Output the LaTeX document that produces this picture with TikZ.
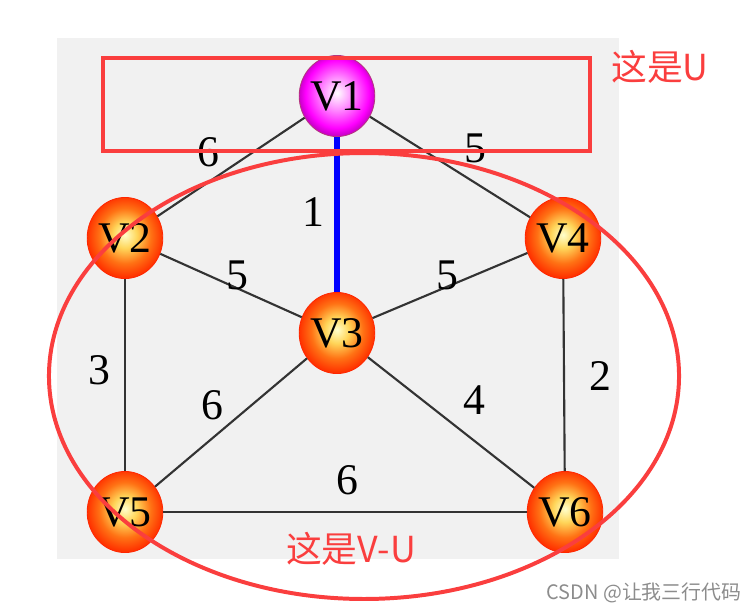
\documentclass[tikz,border=0pt]{standalone}
\usepackage{fontspec}
\setmainfont{Liberation Serif}
\newfontfamily\cjk{Noto Sans CJK SC}
\usetikzlibrary{shapes.geometric}

\definecolor{markred}{RGB}{250,62,62}
\definecolor{panel}{RGB}{241,241,241}
\pgfdeclareradialshading{orangeball}{\pgfpoint{0bp}{2bp}}{color(0bp)=(yellow!20!white); color(8bp)=(orange!50!yellow!65!white); color(17bp)=(orange!80!red!92!white); color(25bp)=(red!60!orange); color(50bp)=(red!60!orange)}
\pgfdeclareradialshading{pinkball}{\pgfpoint{0bp}{2bp}}{color(0bp)=(white); color(10bp)=(magenta!45!white); color(21bp)=(magenta); color(25bp)=(magenta!80!black); color(50bp)=(magenta!80!black)}

\begin{document}
\begin{tikzpicture}[
    x=0.0265cm, y=-0.0265cm,
    vtx/.style={ellipse, draw=red!70!orange, line width=0.6pt, shading=orangeball,
                minimum width=2.0cm, minimum height=2.15cm, inner sep=0pt,
                font=\fontsize{33}{33}\selectfont},
    root/.style={vtx, draw=magenta!70!black, shading=pinkball},
    edge/.style={line width=1.6pt, black!80},
    chosen/.style={line width=3.8pt, blue},
    wt/.style={font=\fontsize{33}{33}\selectfont, inner sep=0pt},
    hilite/.style={draw=markred, line width=3pt},
    note/.style={text=markred, font=\cjk\fontsize{27}{27}\selectfont, inner sep=0pt},
  ]
    \useasboundingbox (0,0) rectangle (754,612);
    \fill[panel] (57,38) rectangle (619,559);

    % vertices
    \node[root] (v1) at (337,96) {V1};
    \node[vtx] (v2) at (125,238) {V2};
    \node[vtx] (v4) at (563,238) {V4};
    \node[vtx] (v3) at (337,333) {V3};
    \node[vtx] (v5) at (125,512) {V5};
    \node[vtx] (v6) at (565,512) {V6};

    % edges
    \draw[edge] (v1) -- (v2);
    \draw[edge] (v1) -- (v4);
    \draw[chosen] (v1) -- (v3);
    \draw[edge] (v2) -- (v3);
    \draw[edge] (v3) -- (v4);
    \draw[edge] (v2) -- (v5);
    \draw[edge] (v4) -- (v6);
    \draw[edge] (v3) -- (v5);
    \draw[edge] (v3) -- (v6);
    \draw[edge] (v5) -- (v6);

    % edge weights
    \node[wt] (w12) at (208,152) {6};
    \node[wt] (w14) at (475,148) {5};
    \node[wt] (w13) at (313,212) {1};
    \node[wt] (w23) at (237,275) {5};
    \node[wt] (w34) at (447,275) {5};
    \node[wt] (w25) at (99,370) {3};
    \node[wt] (w46) at (600,376) {2};
    \node[wt] (w35) at (212,405) {6};
    \node[wt] (w36) at (474,400) {4};
    \node[wt] (w56) at (347,480) {6};

    % U and V-U marks
    \draw[hilite] (103,58) rectangle (590,151);
    \draw[hilite] (364,376) ellipse [x radius=8.35cm, y radius=5.91cm];
    \node[note] (setu) at (660,67) {这是U};
    \node[note] (setvu) at (351,549) {这是V-U};
    \node[text=black!45, font=\cjk\fontsize{15}{15}\selectfont, inner sep=0pt]
      (credit) at (644,593) {CSDN @让我三行代码};
  \end{tikzpicture}
\end{document}
